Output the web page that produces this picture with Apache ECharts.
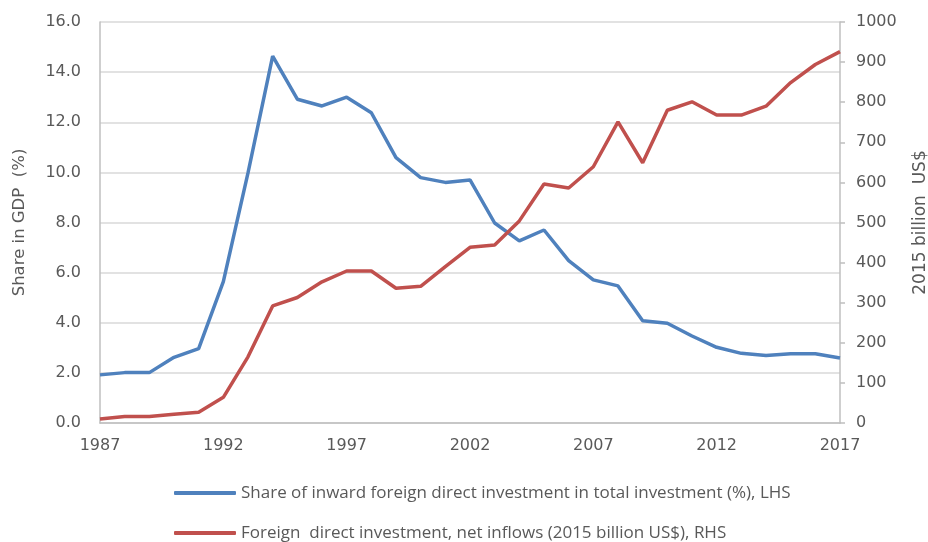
<!DOCTYPE html>
<html>
<head>
<meta charset="utf-8">
<script src="https://cdn.jsdelivr.net/npm/echarts@6/dist/echarts.min.js"></script>
<style>html,body{margin:0;padding:0;background:#fff}#c{width:928px;height:542px}</style>
</head>
<body>
<div id="c"></div>
<script>
var years = [];
for (var y = 1987; y <= 2017; y++) years.push(String(y));
var shareFDI = [1.92,2.01,2.01,2.62,2.97,5.64,9.98,14.64,12.92,12.65,13.0,12.38,10.59,9.79,9.6,9.7,7.98,7.27,7.70,6.48,5.71,5.47,4.08,3.98,3.47,3.02,2.78,2.69,2.76,2.76,2.59];
var fdiInflows = [10,16,16,22,27,64,165,292,313,352,379,379,336,341,390,438,444,504,596,586,639,751,649,780,801,768,768,790,849,894,926];
var leftName = 'Share in GDP  (%)';
var rightName = '2015 billion  US$';
var nameBlue = 'Share of inward foreign direct investment in total investment (%), LHS';
var nameRed = 'Foreign  direct investment, net inflows (2015 billion US$), RHS';

var font = '"Open Sans", sans-serif';
var axFont = '"DejaVu Sans", sans-serif';
var txt = '#595959';
var chart = echarts.init(document.getElementById('c'));
chart.setOption({
  animation: false,
  textStyle: {fontFamily: font},
  grid: {left: 100, right: 88, top: 22, bottom: 119, containLabel: false, outerBoundsMode: 'none'},
  legend: {
    orient: 'vertical', left: 174, top: 482, height: 80, padding: 0,
    itemWidth: 62, itemHeight: 4, itemGap: 18,
    icon: 'roundRect',
    textStyle: {fontSize: 17, color: txt, fontFamily: font, lineHeight: 22},
    data: [nameBlue, nameRed]
  },
  xAxis: {
    type: 'category', data: years, boundaryGap: false,
    axisLine: {lineStyle: {color: '#bfbfbf', width: 1.5}},
    axisTick: {show: false},
    axisLabel: {interval: 4, color: txt, fontSize: 16, margin: 15, fontFamily: axFont}
  },
  yAxis: [{
    type: 'value', min: 0, max: 16, interval: 2,
    name: leftName, nameLocation: 'middle', nameGap: 72, nameRotate: 90, nameMoveOverlap: false,
    nameTextStyle: {fontSize: 16.5, color: txt, fontFamily: axFont},
    axisLine: {show: true, lineStyle: {color: '#bfbfbf', width: 1.5}},
    axisTick: {show: false},
    axisLabel: {formatter: function(v){return v.toFixed(1);}, color: txt, fontSize: 16, margin: 19, fontFamily: axFont},
    splitLine: {lineStyle: {color: '#d9d9d9', width: 1.5}}
  }, {
    type: 'value', min: 0, max: 1000, interval: 100, position: 'right',
    name: rightName, nameLocation: 'middle', nameGap: 72, nameRotate: 90, nameMoveOverlap: false,
    nameTextStyle: {fontSize: 17, color: txt, fontFamily: axFont},
    axisLine: {show: true, lineStyle: {color: '#bfbfbf', width: 1.5}},
    axisTick: {show: true, length: 5, lineStyle: {color: '#bfbfbf', width: 1.5}},
    axisLabel: {formatter: function(v){return String(v);}, color: txt, fontSize: 16, margin: 16, fontFamily: axFont},
    splitLine: {show: false}
  }],
  series: [{
    name: nameBlue, type: 'line', yAxisIndex: 0, data: shareFDI,
    symbol: 'none', lineStyle: {color: '#4f81bd', width: 3.5}, itemStyle: {color: '#4f81bd'}
  }, {
    name: nameRed, type: 'line', yAxisIndex: 1, data: fdiInflows,
    symbol: 'none', lineStyle: {color: '#c0504d', width: 3.5}, itemStyle: {color: '#c0504d'}
  }]
});
</script>
</body>
</html>
